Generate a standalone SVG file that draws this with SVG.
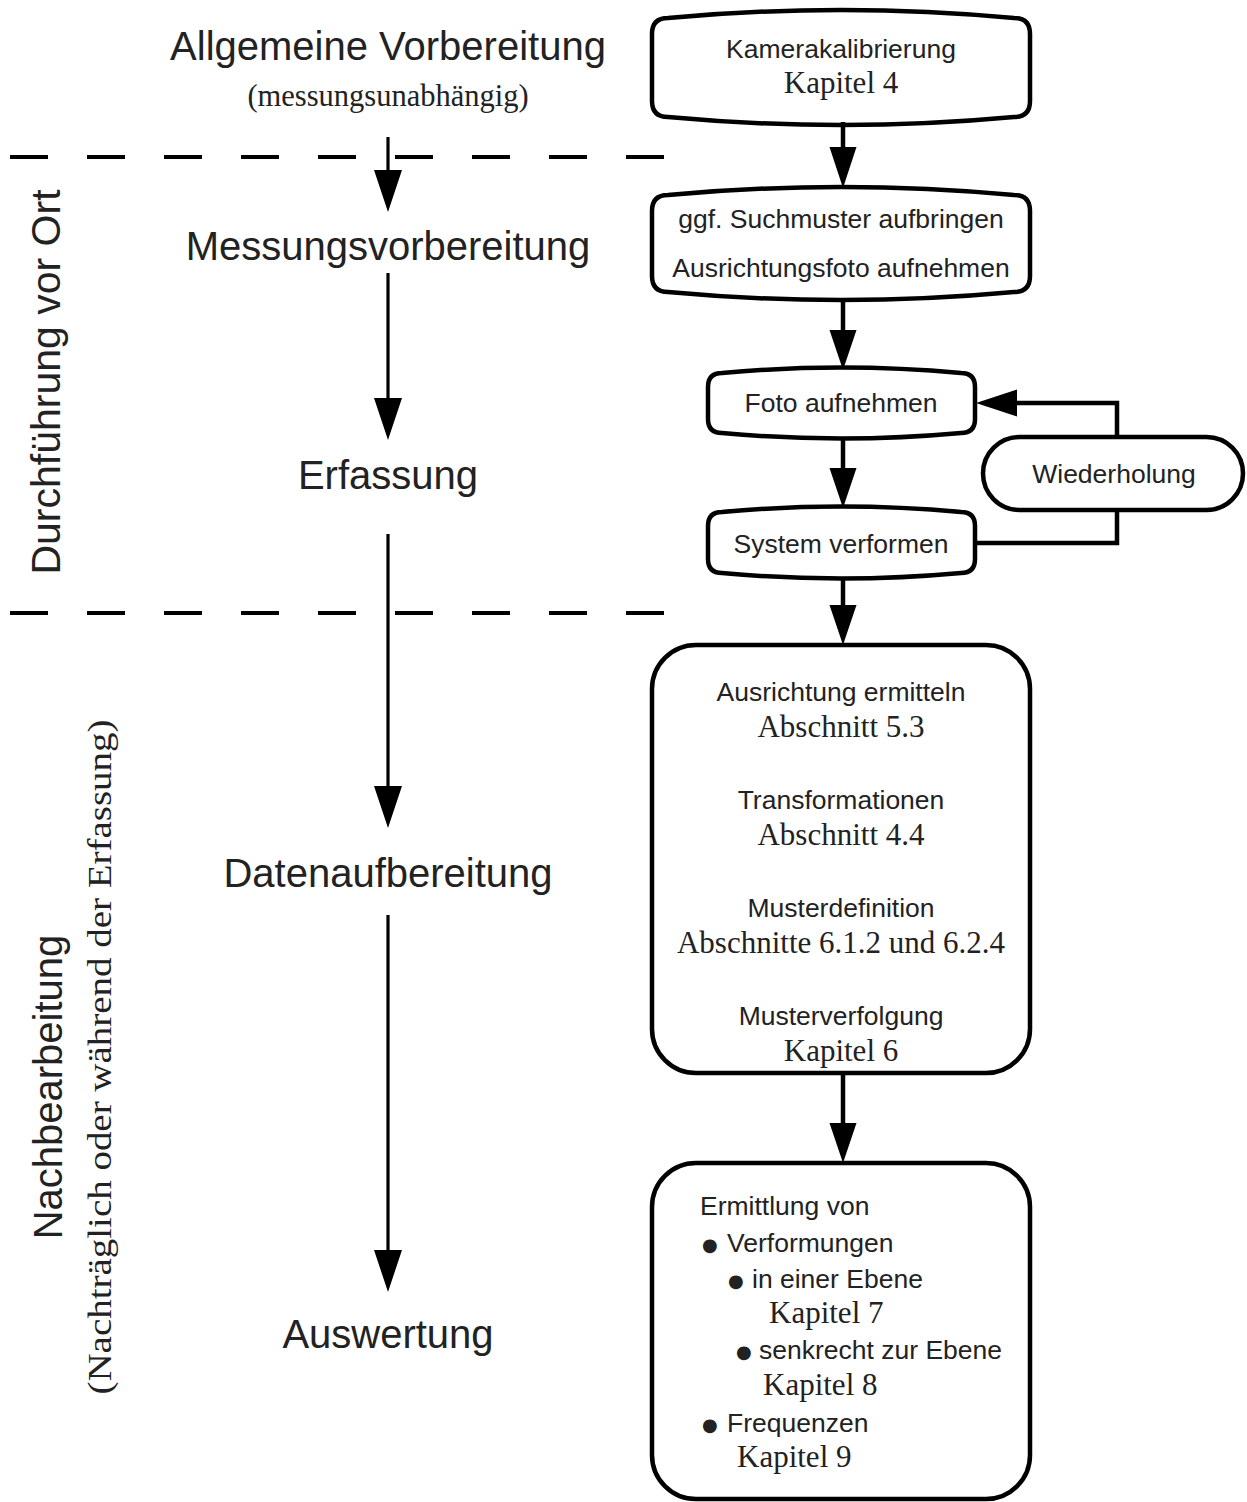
<svg xmlns="http://www.w3.org/2000/svg" width="1247" height="1502" viewBox="0 0 1247 1502">
  <style>
    .sans { font-family: "Liberation Sans", Arial, sans-serif; fill: #222; }
    .serif { font-family: "Liberation Serif", "Times New Roman", serif; fill: #222; }
    .big { font-size: 40px; text-anchor: middle; }
    .lbl { font-size: 26.5px; text-anchor: middle; }
    .ref { font-size: 31px; text-anchor: middle; }
    .item { font-size: 26.5px; }
    .refl { font-size: 31px; }
    .dot { font-family: "DejaVu Sans", sans-serif; font-size: 18px; }
    .box { fill: #fff; stroke: #000; stroke-width: 4.5; stroke-linejoin: round; }
    .flow { fill: none; stroke: #000; stroke-width: 4.5; }
    .phase { fill: none; stroke: #000; stroke-width: 3.2; }
    .sep { fill: none; stroke: #000; stroke-width: 4; stroke-dasharray: 38 39; }
    .head { fill: #000; }
  </style>

  <!-- phase labels, left column -->
  <g id="phase-allgemein">
    <text class="sans big" x="388" y="60">Allgemeine Vorbereitung</text>
    <text class="serif" x="388" y="106" font-size="30.5" text-anchor="middle">(messungsunabhängig)</text>
  </g>
  <g id="phase-messungsvorbereitung">
    <text class="sans big" x="388" y="260">Messungsvorbereitung</text>
  </g>
  <g id="phase-erfassung">
    <text class="sans big" x="388" y="489">Erfassung</text>
  </g>
  <g id="phase-datenaufbereitung">
    <text class="sans big" x="388" y="887">Datenaufbereitung</text>
  </g>
  <g id="phase-auswertung">
    <text class="sans big" x="388" y="1348">Auswertung</text>
  </g>

  <!-- rotated section titles -->
  <g id="section-vor-ort">
    <text class="sans" font-size="41" text-anchor="middle" transform="translate(60,382) rotate(-90)">Durchführung vor Ort</text>
  </g>
  <g id="section-nachbearbeitung">
    <text class="sans" font-size="40" text-anchor="middle" transform="translate(62,1087) rotate(-90)">Nachbearbeitung</text>
    <text class="serif" font-size="34" text-anchor="middle" textLength="675" lengthAdjust="spacingAndGlyphs" transform="translate(111,1057) rotate(-90)">(Nachträglich oder während der Erfassung)</text>
  </g>

  <!-- section separators -->
  <g id="separators">
    <line class="sep" x1="10" y1="157" x2="664" y2="157"/>
    <line class="sep" x1="10" y1="613" x2="664" y2="613"/>
  </g>

  <!-- process boxes, right column -->
  <g id="node-kalibrierung">
    <path class="box" d="M652,34 Q652,18 668,18 Q841,2 1014,18 Q1030,18 1030,34 L1030,101 Q1030,117 1014,117 Q841,133 668,117 Q652,117 652,101 Z"/>
    <text class="sans lbl" x="841" y="58">Kamerakalibrierung</text>
    <text class="serif ref" x="841" y="93">Kapitel 4</text>
  </g>
  <g id="node-suchmuster">
    <path class="box" d="M652,211 Q652,195 668,195 Q841,179 1014,195 Q1030,195 1030,211 L1030,276 Q1030,292 1014,292 Q841,308 668,292 Q652,292 652,276 Z"/>
    <text class="sans lbl" x="841" y="228">ggf. Suchmuster aufbringen</text>
    <text class="sans lbl" x="841" y="277">Ausrichtungsfoto aufnehmen</text>
  </g>
  <g id="node-foto">
    <path class="box" d="M708,387 Q708,373 722,373 Q841,362 961,373 Q975,373 975,387 L975,419 Q975,433 961,433 Q841,444 722,433 Q708,433 708,419 Z"/>
    <text class="sans lbl" x="841" y="412">Foto aufnehmen</text>
  </g>
  <g id="node-verformen">
    <path class="box" d="M708,526 Q708,512 722,512 Q841,501 961,512 Q975,512 975,526 L975,559 Q975,573 961,573 Q841,584 722,573 Q708,573 708,559 Z"/>
    <text class="sans lbl" x="841" y="553">System verformen</text>
  </g>
  <g id="node-wiederholung">
    <rect class="box" x="983" y="437" width="260" height="73" rx="36.5" ry="36.5"/>
    <text class="sans lbl" x="1114" y="483">Wiederholung</text>
  </g>
  <g id="node-datenaufbereitung">
    <rect class="box" x="652" y="645" width="378" height="428" rx="44" ry="44"/>
    <text class="sans lbl" x="841" y="701">Ausrichtung ermitteln</text>
    <text class="serif ref" x="841" y="737">Abschnitt 5.3</text>
    <text class="sans lbl" x="841" y="809">Transformationen</text>
    <text class="serif ref" x="841" y="845">Abschnitt 4.4</text>
    <text class="sans lbl" x="841" y="917">Musterdefinition</text>
    <text class="serif ref" x="841" y="953">Abschnitte 6.1.2 und 6.2.4</text>
    <text class="sans lbl" x="841" y="1025">Musterverfolgung</text>
    <text class="serif ref" x="841" y="1061">Kapitel 6</text>
  </g>
  <g id="node-auswertung">
    <rect class="box" x="652" y="1163" width="378" height="336" rx="44" ry="44"/>
    <text class="sans item" x="700" y="1215">Ermittlung von</text>
    <text class="sans item"><tspan class="dot" x="702" y="1250.5">●</tspan><tspan x="727" y="1252">Verformungen</tspan></text>
    <text class="sans item"><tspan class="dot" x="728" y="1286.5">●</tspan><tspan x="752" y="1288">in einer Ebene</tspan></text>
    <text class="serif refl" x="769" y="1323">Kapitel 7</text>
    <text class="sans item"><tspan class="dot" x="736" y="1357.5">●</tspan><tspan x="759" y="1359">senkrecht zur Ebene</tspan></text>
    <text class="serif refl" x="763" y="1395">Kapitel 8</text>
    <text class="sans item"><tspan class="dot" x="702" y="1430.5">●</tspan><tspan x="727" y="1432">Frequenzen</tspan></text>
    <text class="serif refl" x="737" y="1467">Kapitel 9</text>
  </g>

  <!-- connectors -->
  <g id="connectors">
    <!-- phase sequence -->
    <line class="phase" x1="388" y1="137" x2="388" y2="172"/>
    <polygon class="head" points="374,170 402,170 388,212"/>
    <line class="phase" x1="388" y1="273" x2="388" y2="400"/>
    <polygon class="head" points="374,398 402,398 388,440"/>
    <line class="phase" x1="388" y1="534" x2="388" y2="788"/>
    <polygon class="head" points="374,786 402,786 388,828"/>
    <line class="phase" x1="388" y1="915" x2="388" y2="1252"/>
    <polygon class="head" points="374,1250 402,1250 388,1292"/>

    <!-- process flow -->
    <line class="flow" x1="843" y1="122" x2="843" y2="149"/>
    <polygon class="head" points="829.5,147 856.5,147 843,188"/>
    <line class="flow" x1="843" y1="298" x2="843" y2="332"/>
    <polygon class="head" points="829.5,330 856.5,330 843,370"/>
    <line class="flow" x1="843" y1="438" x2="843" y2="470"/>
    <polygon class="head" points="829.5,468 856.5,468 843,508"/>
    <line class="flow" x1="843" y1="578" x2="843" y2="607"/>
    <polygon class="head" points="829.5,605 856.5,605 843,645"/>
    <line class="flow" x1="843" y1="1073" x2="843" y2="1125"/>
    <polygon class="head" points="829.5,1123 856.5,1123 843,1163"/>

    <!-- repetition loop -->
    <polyline class="flow" points="1117,437 1117,403 1015,403"/>
    <polygon class="head" points="1017,389.5 1017,416.5 976,403"/>
    <polyline class="flow" points="975,543 1117,543 1117,510"/>
  </g>
</svg>
